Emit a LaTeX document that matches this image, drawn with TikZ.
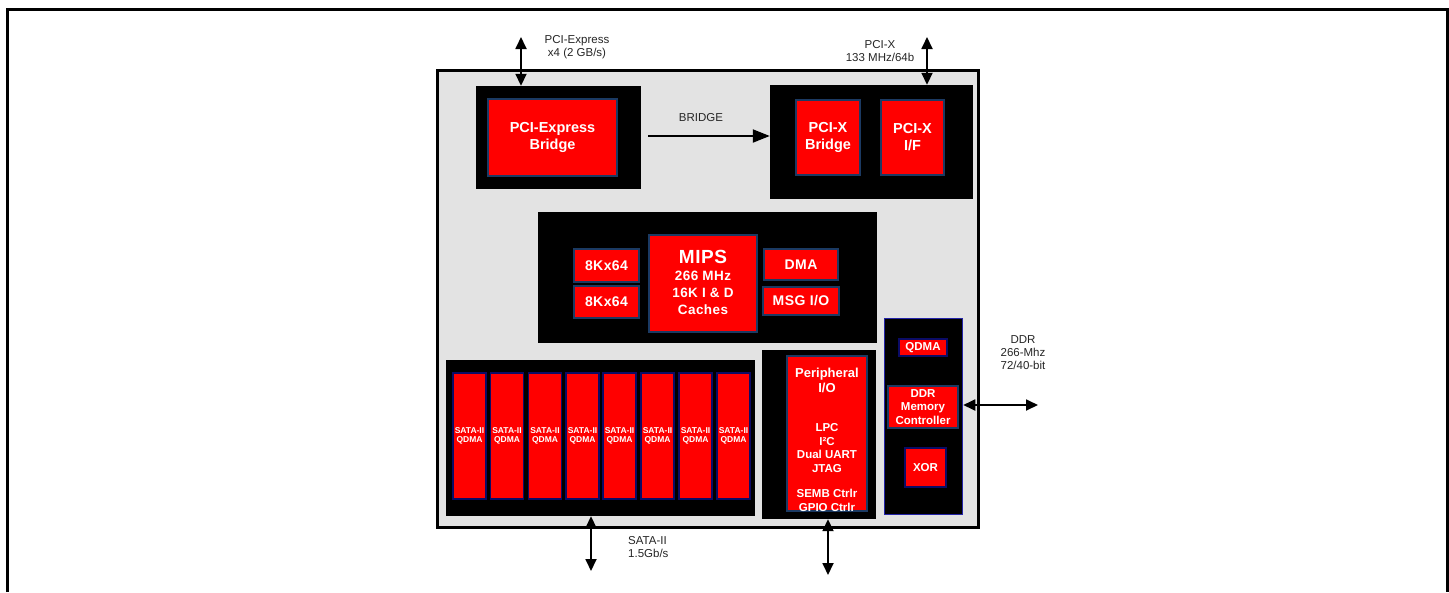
\documentclass[tikz,border=0pt]{standalone}
\usepackage{fontspec}
\setmainfont{Liberation Sans}
\usetikzlibrary{arrows.meta}
\definecolor{chipgray}{HTML}{E3E3E3}
\definecolor{navyb}{HTML}{1B3A63}
\definecolor{darkb}{HTML}{0B0B66}
\definecolor{ddrblue}{HTML}{2424A8}
\definecolor{lbltext}{HTML}{262626}
\definecolor{pred}{HTML}{FF0000}
\newcommand{\fsz}[2]{\fontsize{#1}{#2}\selectfont}
\newcommand{\wide}{\addfontfeature{LetterSpace=3}}
\begin{document}
\begin{tikzpicture}[x=1pt,y=-1pt,
  sz/.style 2 args={minimum width=#1, minimum height=#2},
  blk/.style={rectangle, fill=black, draw=none, inner sep=0pt},
  rbox/.style={rectangle, fill=pred, draw=navyb, line width=2.5pt, inner sep=0pt,
    text=white, font=\bfseries\fsz{14}{17}, align=center},
  sbar/.style={rectangle, fill=pred, draw=darkb, line width=1.8pt, inner sep=0pt,
    minimum width=33pt, minimum height=126pt, text=white,
    font=\bfseries\fsz{8.5}{9.5}, align=center},
  wtxt/.style={text=white, inner sep=0pt, align=center},
  lbl/.style={text=lbltext, font=\fsz{11.5}{13}, align=center, inner sep=0pt},
  biarrow/.style={line width=1.8pt, {Triangle[length=12pt,width=11pt]}-{Triangle[length=12pt,width=11pt]}},
  onearrow/.style={line width=2pt, -{Triangle[length=17pt,width=13pt]}}
]
\useasboundingbox (0,0) rectangle (1449,592);
\fill[white] (0,0) rectangle (1449,592);

% outer frame (open at the bottom)
\draw[line width=3pt] (7.5,592) -- (7.5,9.5) -- (1447,9.5) -- (1447,592);

% chip
\node[rectangle, draw=black, line width=3pt, fill=chipgray, inner sep=0pt,
  sz={541pt}{457pt}] (chip) at (708,299) {};

% PCI-Express bridge
\node[blk, sz={165pt}{103pt}] (pcieblk) at (558.5,137.5) {};
\node[rbox, font=\bfseries\fsz{14.5}{17}, sz={129pt}{77pt}] (pcie) at (552.5,137.5) {PCI-Express\\Bridge};

% PCI-X
\node[blk, sz={203pt}{114pt}] (pcixblk) at (871.5,142) {};
\node[rbox, font=\bfseries\fsz{14.5}{17}, sz={64pt}{75pt}] (pcixbr) at (828,137.5) {PCI-X\\Bridge};
\node[rbox, font=\bfseries\fsz{14.5}{17}, sz={63pt}{75pt}] (pcixif) at (912.5,137.5) {PCI-X\\I/F};

% MIPS area
\node[blk, sz={339pt}{131pt}] (mipsblk) at (707.5,277.5) {};
\node[rbox, font=\bfseries\wide\fsz{14}{17}, sz={65pt}{33pt}] (mem1) at (606.5,265.5) {8Kx64};
\node[rbox, font=\bfseries\wide\fsz{14}{17}, sz={65pt}{32pt}] (mem2) at (606.5,302) {8Kx64};
\node[rbox, sz={108pt}{97pt}] (mips) at (703,283.5) {};
\node[wtxt, font=\bfseries\wide\fsz{19}{21}] (mipst) at (703,257) {MIPS};
\node[wtxt, font=\bfseries\wide\fsz{13.5}{17}] (mipss) at (703,293) {266 MHz\\16K I \& D\\Caches};
\node[rbox, font=\bfseries\wide\fsz{14}{17}, sz={74pt}{31pt}] (dma) at (801,264.5) {DMA};
\node[rbox, font=\bfseries\wide\fsz{14}{17}, sz={76pt}{28pt}] (msg) at (801,301) {MSG I/O};

% SATA
\node[blk, sz={309pt}{156pt}] (satablk) at (600.5,438) {};
\foreach \i/\x in {1/469.5, 2/507, 3/545, 4/582.5, 5/619.5, 6/657.5, 7/695.5, 8/733.5}{
  \node[sbar] (sata\i) at (\x,436) {SATA-II\\QDMA};
}

% Peripheral
\node[blk, sz={114pt}{169pt}] (periphblk) at (819,434.5) {};
\node[rbox, sz={80pt}{155pt}] (periph) at (827,433.5) {};
\node[wtxt, font=\bfseries\fsz{13}{15}] (pt1) at (827,380.5) {Peripheral\\I/O};
\node[wtxt, font=\bfseries\fsz{11.5}{13.5}] (pt2) at (827,448) {LPC\\I²C\\Dual UART\\JTAG};
\node[wtxt, font=\bfseries\fsz{11.5}{13.5}] (pt3) at (827,500.5) {SEMB Ctrlr\\GPIO Ctrlr};

% DDR
\node[rectangle, fill=black, draw=ddrblue, line width=1.5pt, inner sep=0pt, sz={78pt}{196pt}] (ddrblk) at (923.5,416.5) {};
\node[rbox, draw=darkb, line width=2pt, font=\bfseries\fsz{11.5}{13.5}, sz={48pt}{17pt}] (qdma) at (923,347.5) {QDMA};
\node[rbox, line width=2pt, font=\bfseries\fsz{11.5}{13.5}, sz={70pt}{42pt}] (ddrmc) at (923,407) {DDR\\Memory\\Controller};
\node[rbox, draw=darkb, line width=2pt, font=\bfseries\fsz{11.5}{13.5}, sz={41pt}{39pt}] (xor) at (925.5,467.5) {XOR};

% external connectors
\coordinate (pcieext) at (521,37);
\draw[biarrow] (pcieext) -- (pcieext |- pcieblk.north);
\node[lbl] (pciel) at (577,47) {PCI-Express\\x4 (2 GB/s)};

\coordinate (pcixext) at (927,37);
\draw[biarrow] (pcixext) -- (pcixext |- pcixblk.north);
\node[lbl] (pcixl) at (880,51) {PCI-X\\133 MHz/64b};

\draw[onearrow] ([xshift=7pt,yshift=1.5pt]pcieblk.east) -- ([yshift=1.5pt]pcixblk.west |- pcieblk.east);
\node[lbl] (bridgel) at (701,118) {BRIDGE};

\coordinate (sataext) at (591,571);
\draw[biarrow] (sataext) -- (sataext |- satablk.south);
\node[lbl, anchor=west, align=left] (satal) at (628,547.5) {SATA-II\\1.5Gb/s};

\coordinate (periphext) at (828,575);
\draw[biarrow] (periphext) -- (periphext |- periphblk.south);

\coordinate (ddrext) at (1038,405);
\draw[biarrow] (ddrext) -- (ddrext -| ddrblk.east);
\node[lbl] (ddrl) at (1023,353) {DDR\\266-Mhz\\72/40-bit};
\end{tikzpicture}
\end{document}
